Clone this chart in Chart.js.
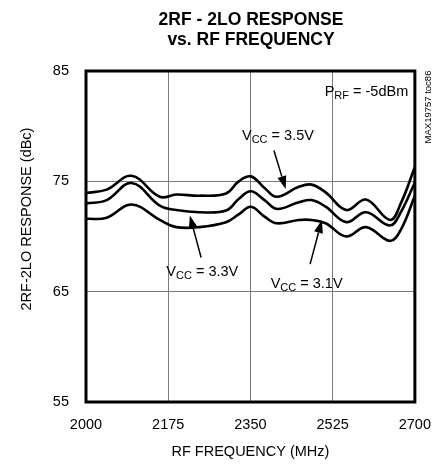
<!DOCTYPE html>
<html>
<head>
<meta charset="utf-8">
<script src="https://cdn.jsdelivr.net/npm/chart.js@4/dist/chart.umd.min.js"></script>
<style>
html,body{margin:0;padding:0;background:#fff;}
canvas{display:block;}
</style>
</head>
<body>
<canvas id="c" width="445" height="464"></canvas>
<script>
// ---- data ----
const freqMHz = [2000,2044,2097,2157,2192,2241,2298,2325,2351,2380,2406,2453,2480,2510,2554,2596,2647,2670,2700];
const vcc35 = [73.95,74.25,75.5,73.6,73.8,73.7,73.9,75.0,75.45,74.4,73.6,74.5,74.7,74.0,72.4,73.35,71.5,73.0,76.3];
const vcc33 = [73.0,73.3,74.85,72.8,72.4,72.2,72.35,73.4,74.1,73.3,72.5,73.1,73.3,72.7,71.3,72.2,71.0,72.2,74.9];
const vcc31 = [71.6,71.7,72.9,71.5,70.85,70.85,71.3,72.0,72.7,71.8,71.2,71.5,71.5,71.2,70.0,70.85,69.6,70.6,73.7];
const xTicks = [2000,2175,2350,2525,2700];
const yTicks = [55,65,75,85];
const titleLines = ["2RF - 2LO RESPONSE","vs. RF FREQUENCY"];
const xTitle = "RF FREQUENCY (MHz)";
const yTitle = "2RF-2LO RESPONSE (dBc)";

const FONT = '"Liberation Sans",Arial,sans-serif';

function toPts(ys){ return freqMHz.map((f,i)=>({x:f,y:ys[i]})); }
function ds(label, ys){
  return {label, data: toPts(ys), borderColor:'#000', borderWidth:2.6, pointRadius:0, tension:0.4, fill:false};
}

// annotation labels: [base, sub, rest, xData, yData] ; arrows: [tailX,tailY,tipX,tipY]
const labels = [
  ["P","RF"," = -5dBm",2508,83.15],
  ["V","CC"," = 3.5V",2332,79.2],
  ["V","CC"," = 3.3V",2171,66.85],
  ["V","CC"," = 3.1V",2393,65.75]
];
const arrows = [
  [2400,77.8,2425,74.3],
  [2245,68.1,2221,71.9],
  [2477,67.5,2502,71.5]
];

const deco = {
  id:'deco',
  afterDraw(chart){
    const {ctx, chartArea:a, scales:{x,y}} = chart;
    ctx.save();
    // border
    ctx.strokeStyle='#000'; ctx.lineWidth=3;
    ctx.strokeRect(a.left, a.top, a.right-a.left, a.bottom-a.top);
    // title
    ctx.fillStyle='#000';
    ctx.textAlign='center'; ctx.textBaseline='middle';
    ctx.font='bold 17.5px '+FONT;
    ctx.fillText(titleLines[0], 251, 20);
    ctx.fillText(titleLines[1], 251, 40);
    // axis titles
    ctx.font='14.5px '+FONT;
    ctx.fillText(xTitle, (a.left+a.right)/2, 452);
    ctx.save();
    ctx.translate(27, 219);
    ctx.rotate(-Math.PI/2);
    ctx.fillText(yTitle, 0, 0);
    ctx.restore();
    // side note
    ctx.save();
    ctx.translate(428, 107);
    ctx.rotate(-Math.PI/2);
    ctx.font='9.5px '+FONT;
    ctx.fillText("MAX19757 toc86", 0, 0);
    ctx.restore();
    // labels with subscripts
    ctx.textAlign='left'; ctx.textBaseline='alphabetic';
    labels.forEach(([b,s,r,fx,fy])=>{
      let px = x.getPixelForValue(fx), py = y.getPixelForValue(fy)+5;
      ctx.font='14.5px '+FONT;
      ctx.fillText(b, px, py); px += ctx.measureText(b).width;
      ctx.font='11px '+FONT;
      ctx.fillText(s, px, py+3); px += ctx.measureText(s).width;
      ctx.font='14.5px '+FONT;
      ctx.fillText(r, px, py);
    });
    // arrows
    arrows.forEach(([tx,ty,hx,hy])=>{
      const x1=x.getPixelForValue(tx), y1=y.getPixelForValue(ty);
      const x2=x.getPixelForValue(hx), y2=y.getPixelForValue(hy);
      const ang=Math.atan2(y2-y1,x2-x1), L=13, W=4.5;
      const bx=x2-L*Math.cos(ang), by=y2-L*Math.sin(ang);
      ctx.strokeStyle='#000'; ctx.lineWidth=1.5;
      ctx.beginPath(); ctx.moveTo(x1,y1); ctx.lineTo(bx,by); ctx.stroke();
      ctx.beginPath();
      ctx.moveTo(x2,y2);
      ctx.lineTo(bx+W*Math.sin(ang), by-W*Math.cos(ang));
      ctx.lineTo(bx-W*Math.sin(ang), by+W*Math.cos(ang));
      ctx.closePath(); ctx.fill();
    });
    ctx.restore();
  }
};

new Chart(document.getElementById('c'), {
  type:'line',
  data:{datasets:[ds('VCC = 3.5V',vcc35), ds('VCC = 3.3V',vcc33), ds('VCC = 3.1V',vcc31)]},
  options:{
    responsive:false, animation:false,
    layout:{padding:{top:71,right:28,bottom:0,left:0}},
    plugins:{legend:{display:false}, tooltip:{enabled:false}, title:{display:false}},
    scales:{
      x:{type:'linear', min:xTicks[0], max:xTicks[xTicks.length-1],
        afterBuildTicks(s){ s.ticks = xTicks.map(v=>({value:v})); },
        afterFit(s){ s.height = 62; },
        ticks:{color:'#000', font:{family:FONT,size:14.5}, padding:14, maxRotation:0, autoSkip:false, callback:(v)=>String(v)},
        grid:{color:(c)=> (c.tick && (c.tick.value===xTicks[0]||c.tick.value===xTicks[xTicks.length-1]))?'rgba(0,0,0,0)':'#7a7a7a', lineWidth:1, drawTicks:false},
        border:{display:false}
      },
      y:{type:'linear', min:yTicks[0], max:yTicks[yTicks.length-1],
        afterBuildTicks(s){ s.ticks = yTicks.map(v=>({value:v})); },
        afterFit(s){ s.width = 86; },
        ticks:{color:'#000', font:{family:FONT,size:14.5}, padding:17, callback:(v)=>String(v)},
        grid:{color:(c)=> (c.tick && (c.tick.value===yTicks[0]||c.tick.value===yTicks[yTicks.length-1]))?'rgba(0,0,0,0)':'#7a7a7a', lineWidth:1, drawTicks:false},
        border:{display:false}
      }
    }
  },
  plugins:[deco]
});
</script>
</body>
</html>
